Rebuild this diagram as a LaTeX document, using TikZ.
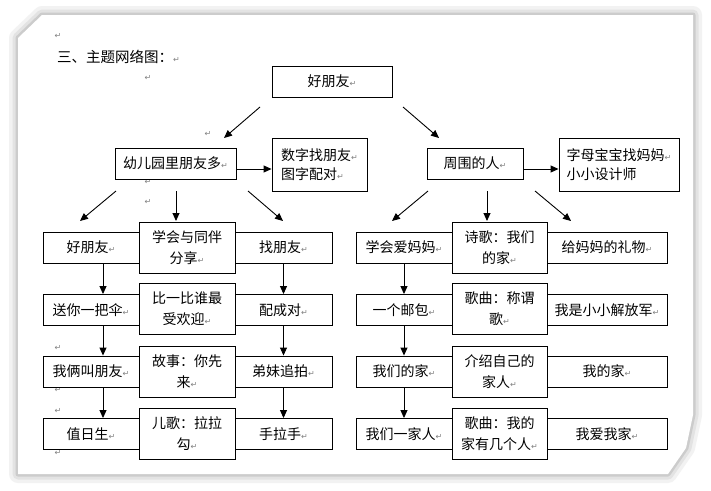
\documentclass[tikz,border=0pt]{standalone}
\usepackage{fontspec}
\newfontfamily\cjk{Noto Sans CJK SC}
\newfontfamily\djv{DejaVu Sans}
\usetikzlibrary{arrows.meta,calc}
\newcommand{\rt}{{\djv\fontsize{8}{8}\selectfont\color{black!50}↵}}
\begin{document}
\begin{tikzpicture}[x=1pt,y=-1pt,
  every node/.style={font=\cjk\fontsize{14}{21}\selectfont, inner sep=0pt},
  bx/.style={draw, line width=0.9pt, fill=white, align=center, minimum height=31pt},
  mid/.style={bx, minimum height=51pt},
  side/.style={bx, align=left, minimum height=53pt, font=\cjk\fontsize{14}{19}\selectfont},
  arr/.style={line width=0.9pt, -{Triangle[length=8pt,width=7pt]}},
  mk/.style={font=\djv\fontsize{8}{8}\selectfont, text=black!50},
  pageshape/.style={line join=round}]
\useasboundingbox (0,0) rectangle (711,490);
\fill[white] (0,0) rectangle (711,490);
% page with soft shadow
\def\pg{(18,38) -- (42,15) -- (693,15) -- (693,415) -- (686,448) -- (668,474) -- (18,474) -- cycle}
\draw[pageshape, line width=18pt, black!5] \pg;
\draw[pageshape, line width=11pt, black!11] \pg;
\draw[pageshape, line width=5pt, black!20] \pg;
\fill[white] \pg;

% title and stray marks
\node[anchor=west, font=\cjk\fontsize{14.5}{18}\selectfont] (title) at (57,57) {三、主题网络图：\rt};
\node[mk] (m1) at (58,36) {↵};
\node[mk] (m2) at (148,78) {↵};
\node[mk] (m3) at (208,134) {↵};
\node[mk] (m4) at (148,182) {↵};
\node[mk] (m5) at (148,202) {↵};
\node[mk] (m6) at (58,348) {↵};
\node[mk] (m7) at (58,390) {↵};
\node[mk] (m8) at (58,411) {↵};
\node[mk] (m9) at (58,453) {↵};

% top
\node[bx, minimum width=120pt] (top) at (332,81.5) {好朋友\rt};
% second level
\node[bx, minimum width=121pt] (kg) at (175.5,163.5) {幼儿园里朋友多\rt};
\node[side, minimum width=95pt] (num) at (319.5,164.5) {数字找朋友\rt\\图字配对\rt};
\node[bx, minimum width=96pt] (ppl) at (475,163.5) {周围的人\rt};
\node[side, minimum width=120pt] (abc) at (619,164.5) {字母宝宝找妈妈\rt\\小小设计师};

% free arrows from top
\coordinate (t1s) at (260,107); \coordinate (t1e) at (224,138);
\coordinate (t2s) at (403,107); \coordinate (t2e) at (439,138);
\draw[arr] (t1s) -- (t1e);
\draw[arr] (t2s) -- (t2e);

% horizontal arrows
\path ([yshift=-5.5pt]kg.east) coordinate (kge);
\draw[arr] (kge) -- (kge -| num.west);
\path ([yshift=-5.5pt]ppl.east) coordinate (ppe);
\draw[arr] (ppe) -- (ppe -| abc.west);

% arrows down to first rows
\coordinate (a1s) at (116,191); \coordinate (a1e) at (80,221);
\coordinate (a2s) at (176,191); \coordinate (a2e) at (176,221);
\coordinate (a3s) at (248,191); \coordinate (a3e) at (283,221);
\coordinate (b1s) at (428,191); \coordinate (b1e) at (392,221);
\coordinate (b2s) at (487,191); \coordinate (b2e) at (487,221);
\coordinate (b3s) at (535,191); \coordinate (b3e) at (571,221);
\foreach \s/\e in {a1s/a1e,a2s/a2e,a3s/a3e,b1s/b1e,b2s/b2e,b3s/b3e}
  \draw[arr] (\s) -- (\e);

% left group
\node[bx, minimum width=96pt] (l1) at (91,247.5) {好朋友\rt};
\node[bx, minimum width=96pt] (l2) at (91,310) {送你一把伞\rt};
\node[bx, minimum width=96pt] (l3) at (91,371.5) {我俩叫朋友\rt};
\node[bx, minimum width=96pt] (l4) at (91,434) {值日生\rt};
\node[bx, minimum width=97pt] (r1) at (283.5,247.5) {找朋友\rt};
\node[bx, minimum width=97pt] (r2) at (283.5,310) {配成对\rt};
\node[bx, minimum width=97pt] (r3) at (283.5,371.5) {弟妹追拍\rt};
\node[bx, minimum width=97pt] (r4) at (283.5,434) {手拉手\rt};
\node[mid, minimum width=96pt] (c1) at (187,247.5) {学会与同伴\\分享\rt};
\node[mid, minimum width=96pt] (c2) at (187,309) {比一比谁最\\受欢迎\rt};
\node[mid, minimum width=96pt] (c3) at (187,372) {故事：你先\\来\rt};
\node[mid, minimum width=96pt] (c4) at (187,434) {儿歌：拉拉\\勾\rt};
\foreach \a/\b in {l1/l2,l2/l3,l3/l4}
  \draw[arr] ([xshift=12pt]\a.south) -- ([xshift=12pt]\b.north);
\foreach \a/\b in {r1/r2,r2/r3,r3/r4}
  \draw[arr] (\a.south) -- (\b.north);

% right group
\node[bx, minimum width=96pt] (p1) at (404,247.5) {学会爱妈妈\rt};
\node[bx, minimum width=96pt] (p2) at (404,310) {一个邮包\rt};
\node[bx, minimum width=96pt] (p3) at (404,371.5) {我们的家\rt};
\node[bx, minimum width=96pt] (p4) at (404,434) {我们一家人\rt};
\node[bx, minimum width=120pt] (q1) at (607,247.5) {给妈妈的礼物\rt};
\node[bx, minimum width=120pt] (q2) at (607,310) {我是小小解放军\rt};
\node[bx, minimum width=120pt] (q3) at (607,371.5) {我的家\rt};
\node[bx, minimum width=120pt] (q4) at (607,434) {我爱我家\rt};
\node[mid, minimum width=95pt] (d1) at (499.5,247.5) {诗歌：我们\\的家\rt};
\node[mid, minimum width=95pt] (d2) at (499.5,309) {歌曲：称谓\\歌\rt};
\node[mid, minimum width=95pt] (d3) at (499.5,372) {介绍自己的\\家人\rt};
\node[mid, minimum width=95pt] (d4) at (499.5,434) {歌曲：我的\\家有几个人\rt};
\foreach \a/\b in {p1/p2,p2/p3,p3/p4}
  \draw[arr] (\a.south) -- (\b.north);
\end{tikzpicture}
\end{document}
